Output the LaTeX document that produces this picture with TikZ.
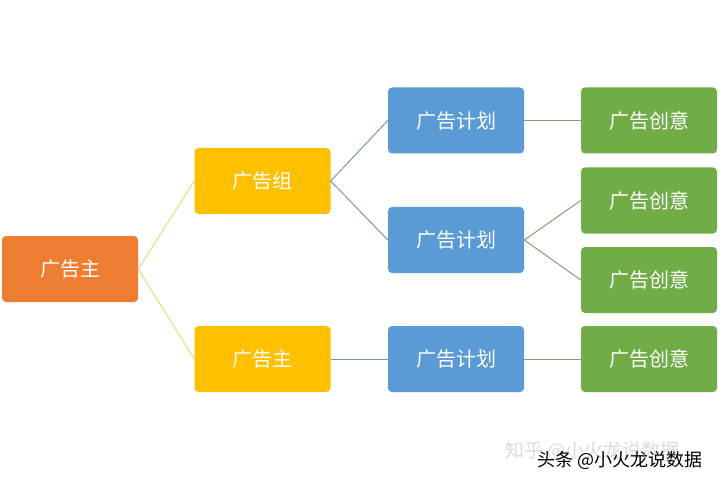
\documentclass[tikz,border=0pt]{standalone}
\usepackage{fontspec}
\setmainfont{Noto Sans CJK SC}
\begin{document}
\begin{tikzpicture}[x=1pt,y=-1pt,
  box/.style={rounded corners=4pt, minimum width=136pt, minimum height=66pt, inner sep=0pt, text=white, font=\fontsize{20}{22}\selectfont},
  orangebox/.style={box, fill={rgb,255:red,237;green,125;blue,49}},
  yellowbox/.style={box, fill={rgb,255:red,255;green,192;blue,0}},
  bluebox/.style={box, fill={rgb,255:red,91;green,155;blue,213}},
  greenbox/.style={box, fill={rgb,255:red,112;green,173;blue,71}},
  yline/.style={draw={rgb,255:red,244;green,214;blue,120}, line width=1pt},
  bline/.style={draw={rgb,255:red,120;green,150;blue,190}, line width=1pt},
  gline/.style={draw={rgb,255:red,130;green,160;blue,115}, line width=1pt}]
\useasboundingbox (0,0) rectangle (720,481);
\fill[white] (0,0) rectangle (720,481);
\node[orangebox] (root) at (70,269) {广告主};
\node[yellowbox] (g1) at (262.5,181) {广告组};
\node[yellowbox] (g2) at (262.5,359) {广告主};
\node[bluebox] (p1) at (456,120.5) {广告计划};
\node[bluebox] (p2) at (456,240) {广告计划};
\node[bluebox] (p3) at (456,359) {广告计划};
\node[greenbox] (c1) at (649,120.5) {广告创意};
\node[greenbox] (c2) at (649,200.5) {广告创意};
\node[greenbox] (c3) at (649,280) {广告创意};
\node[greenbox] (c4) at (649,359) {广告创意};
\draw[yline] (root.east) -- (g1.west);
\draw[yline] (root.east) -- (g2.west);
\draw[bline] (g1.east) -- (p1.west);
\draw[bline] (g1.east) -- (p2.west);
\draw[bline] (g2.east) -- (p3.west);
\draw[gline] (p1.east) -- (c1.west);
\draw[gline] (p2.east) -- (c2.west);
\draw[gline] (p2.east) -- (c3.west);
\draw[gline] (p3.east) -- (c4.west);
\node[text={rgb,255:red,220;green,220;blue,220}, font=\fontsize{19}{21}\selectfont, anchor=west, inner sep=0pt] (wm1) at (505,451) {知乎 @小火龙说数据};
\node[text=black, font=\fontsize{18}{20}\selectfont, anchor=west, inner sep=0pt] (wm2) at (537,460) {头条 @小火龙说数据};
\end{tikzpicture}
\end{document}
